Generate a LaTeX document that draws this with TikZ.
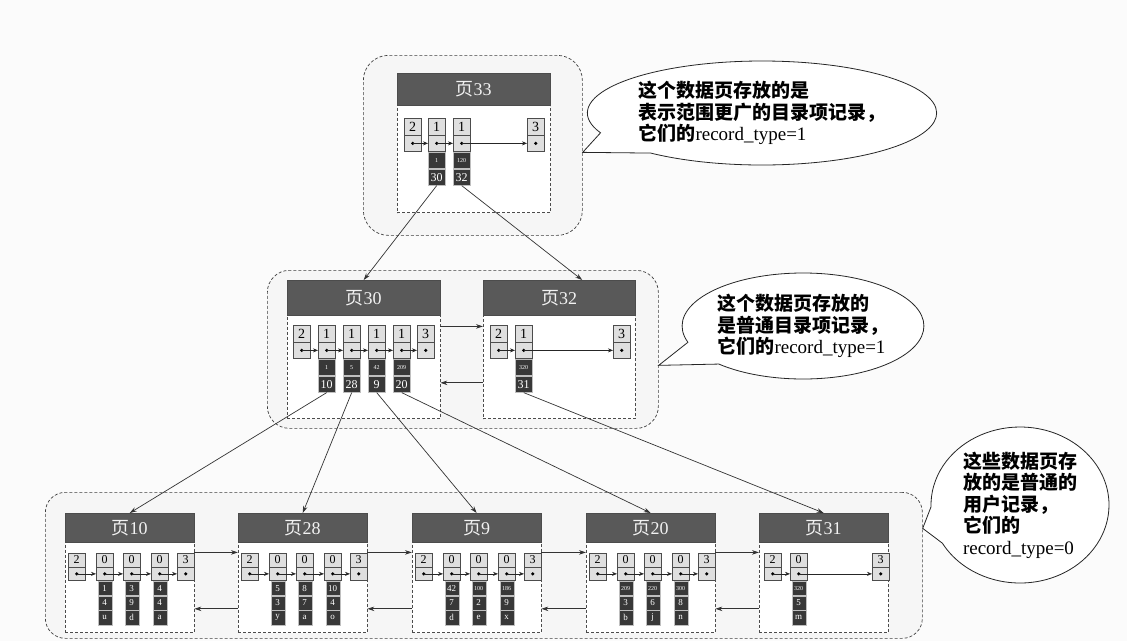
\documentclass[tikz,border=0pt]{standalone}
\usepackage{fontspec}
\setmainfont{Liberation Serif}
\newfontfamily\cjk{Noto Sans CJK SC}
\usetikzlibrary{arrows.meta,shapes.callouts}

% record: type cell on top, pointer cell below
\newcommand\rec[4][cell]{%
  \node[#1, anchor=north west] (#2t) at (#3) {#4};
  \node[#1, anchor=north, alias=#2k0] (#2) at (#2t.south) {};
  \fill (#2.center) circle (1.8pt);}
% dark key column under a record
\newcommand\keys[3][key]{%
  \foreach \v [count=\i, remember=\i as \j (initially 0)] in {#3}
    \node[#1, anchor=north] (#2k\i) at (#2k\j.south) {\v};}
\newcommand\sm[1]{{\fontsize{6}{6}\selectfont #1}}

\tikzset{
  grp/.style={draw=black!75, densely dashed, rounded corners=22pt, fill=gray!7, line width=0.7pt, inner sep=0pt, anchor=north west},
  head/.style={draw=black!70, fill=black!65, text=gray!10, inner sep=0pt, anchor=north west, font=\fontsize{18}{18}\selectfont},
  body/.style={draw=black!70, densely dashed, fill=white, inner sep=0pt, anchor=north},
  cell/.style={draw=black!70, fill=gray!25, inner sep=0pt, minimum width=17pt, minimum height=16.5pt, font=\fontsize{14}{14}\selectfont},
  lcell/.style={cell, minimum height=13.5pt, font=\fontsize{12}{12}\selectfont},
  key/.style={draw=gray!50, fill=black!78, text=white, inner sep=0pt, minimum width=17pt, minimum height=16.5pt, font=\fontsize{12}{12}\selectfont},
  lkey/.style={key, minimum width=14pt, minimum height=14.3pt, font=\fontsize{9}{9}\selectfont},
  link/.style={-{Stealth[length=5pt,width=4pt]}, line width=0.5pt, black!85},
  tree/.style={-{Stealth[length=7pt,width=4.5pt]}, line width=0.7pt, black!80},
  bubble/.style={ellipse callout, draw=black!85, fill=white, line width=0.8pt, align=left, inner sep=0pt, callout pointer arc=28, font=\fontsize{19}{21.5}\selectfont}
}

\begin{document}
\begin{tikzpicture}[x=1pt, y=-1pt]
\useasboundingbox (0,0) rectangle (1127,641);
\fill[gray!3] (0,0) rectangle (1127,641);

% groups of pages
\node[grp, rounded corners=25pt, minimum width=219pt, minimum height=180pt] (g33) at (363,55) {};
\node[grp, minimum width=391pt, minimum height=158pt] (g30) at (267,270) {};
\node[grp, rounded corners=20pt, minimum width=877pt, minimum height=146pt] (gleaf) at (45,492) {};

% page 33
\node[head, minimum width=153pt, minimum height=32pt] (p33) at (397,73) {{\cjk 页}33};
\node[body, minimum width=153pt, minimum height=107pt] (b33) at (p33.south) {};
\foreach \t/\x [count=\i] in {2/404, 1/428, 1/453, 3/527}
  \rec{p33r\i}{\x,118}{\t};
\foreach \i [remember=\i as \j (initially 1)] in {2,...,4}
  \draw[link] (p33r\j.center) -- (p33r\i.west);
\keys{p33r2}{\sm{1},30}
\keys{p33r3}{\sm{120},32}

% page 30 and page 32
\node[head, minimum width=153pt, minimum height=35pt] (p30) at (287,280) {{\cjk 页}30};
\node[body, minimum width=153pt, minimum height=103pt] (b30) at (p30.south) {};
\node[head, minimum width=152pt, minimum height=35pt] (p32) at (483,280) {{\cjk 页}32};
\node[body, minimum width=152pt, minimum height=103pt] (b32) at (p32.south) {};
\foreach \t/\x [count=\i] in {2/293, 1/318, 1/343, 1/368, 1/393, 3/417}
  \rec{p30r\i}{\x,325}{\t};
\foreach \i [remember=\i as \j (initially 1)] in {2,...,6}
  \draw[link] (p30r\j.center) -- (p30r\i.west);
\keys{p30r2}{\sm{1},10}
\keys{p30r3}{\sm{5},28}
\keys{p30r4}{\sm{42},9}
\keys{p30r5}{\sm{209},20}
\foreach \t/\x [count=\i] in {2/490, 1/515, 3/613}
  \rec{p32r\i}{\x,325}{\t};
\foreach \i [remember=\i as \j (initially 1)] in {2,3}
  \draw[link] (p32r\j.center) -- (p32r\i.west);
\keys{p32r2}{\sm{320},31}
\draw[tree] ([yshift=-11pt]b30.north east) -- ([yshift=-11pt]b32.north west);
\draw[tree] ([yshift=36pt]b32.south west) -- ([yshift=36pt]b30.south east);

% leaf pages
\foreach \p/\x in {10/65, 28/238, 9/412, 20/586, 31/759} {
  \node[head, minimum width=129pt, minimum height=29pt] (p\p) at (\x,513) {{\cjk 页}\p};
  \node[body, minimum width=129pt, minimum height=90pt] (b\p) at (p\p.south) {};
}
\foreach \p/\x in {10/65, 28/238, 9/412, 20/586} {
  \foreach \t/\d [count=\i] in {2/3, 0/31, 0/58, 0/86, 3/112}
    \rec[lcell]{p\p r\i}{\x+\d,553}{\t};
  \foreach \i [remember=\i as \j (initially 1)] in {2,...,5}
    \draw[link] (p\p r\j.center) -- (p\p r\i.west);
}
\foreach \t/\x [count=\i] in {2/764, 0/790, 3/872}
  \rec[lcell]{p31r\i}{\x,553}{\t};
\foreach \i [remember=\i as \j (initially 1)] in {2,3}
  \draw[link] (p31r\j.center) -- (p31r\i.west);
\keys[lkey]{p10r2}{1,4,u}
\keys[lkey]{p10r3}{3,9,d}
\keys[lkey]{p10r4}{4,4,a}
\keys[lkey]{p28r2}{5,3,y}
\keys[lkey]{p28r3}{8,7,a}
\keys[lkey]{p28r4}{10,4,o}
\keys[lkey]{p9r2}{42,7,d}
\keys[lkey]{p9r3}{\sm{100},2,e}
\keys[lkey]{p9r4}{\sm{186},9,x}
\keys[lkey]{p20r2}{\sm{209},3,b}
\keys[lkey]{p20r3}{\sm{220},6,j}
\keys[lkey]{p20r4}{\sm{300},8,n}
\keys[lkey]{p31r2}{\sm{320},5,m}
\foreach \a/\b in {10/28, 28/9, 9/20, 20/31} {
  \draw[tree] ([yshift=-10pt]b\a.north east) -- ([yshift=-10pt]b\b.north west);
  \draw[tree] ([yshift=24pt]b\b.south west) -- ([yshift=24pt]b\a.south east);
}

% tree connectors
\draw[tree] (p33r2k2.south) -- (p30.north);
\draw[tree] (p33r3k2.south) -- ([xshift=23pt]p32.north);
\draw[tree] (p30r2k2.south) -- (p10.north);
\draw[tree] (p30r3k2.south) -- (p28.north);
\draw[tree] (p30r4k2.south) -- (p9.north);
\draw[tree] (p30r5k2.south) -- (p20.north);
\draw[tree] (p32r2k2.south) -- (p31.north);

% callouts
\node[bubble, minimum width=290pt, minimum height=104pt, callout absolute pointer={([yshift=-7pt]g33.east)}] (c33) at (762,113)
  {{\cjk\bfseries 这个数据页存放的是}\\{\cjk\bfseries 表示范围更广的目录项记录，}\\{\cjk\bfseries 它们的}record\_type=1};
\node[bubble, minimum width=226pt, minimum height=106pt, callout absolute pointer={([yshift=-16pt]g30.east)}] (c30) at (803,326)
  {{\cjk\bfseries 这个数据页存放的}\\{\cjk\bfseries 是普通目录项记录，}\\{\cjk\bfseries 它们的}record\_type=1};
\node[bubble, minimum width=178pt, minimum height=156pt, callout absolute pointer={([yshift=37pt]gleaf.east)}] (cleaf) at (1020,505)
  {{\cjk\bfseries 这些数据页存}\\{\cjk\bfseries 放的是普通的}\\{\cjk\bfseries 用户记录，}\\{\cjk\bfseries 它们的}\\record\_type=0};
\end{tikzpicture}
\end{document}
